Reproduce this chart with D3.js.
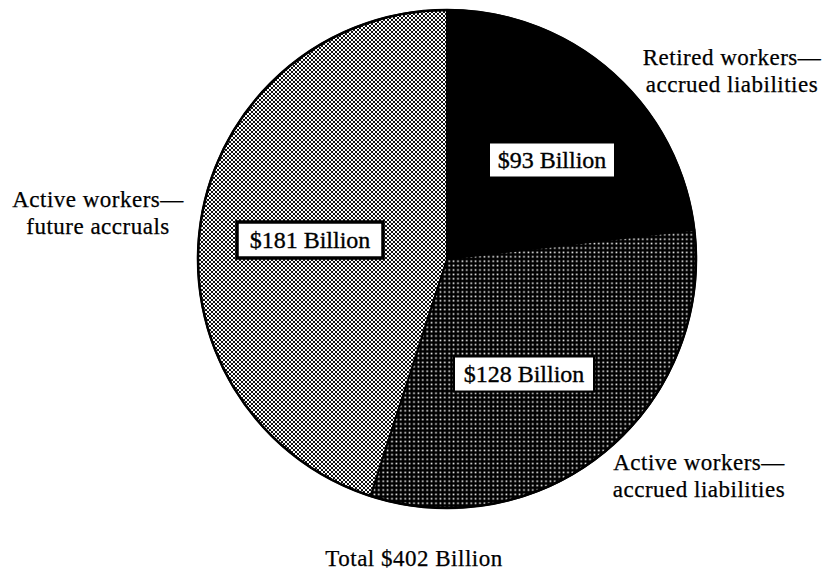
<!DOCTYPE html>
<html><head><meta charset="utf-8">
<script src="https://cdn.jsdelivr.net/npm/d3@7/dist/d3.min.js"></script>
<style>
html,body{margin:0;padding:0;background:#fff;}
svg{display:block;}
text{font-family:"Liberation Serif","Times New Roman",serif;fill:#000;}
</style></head>
<body>
<svg id="chart" width="826" height="572"></svg>
<script>
// ---- data ----
const categories = ["Retired workers\u2014accrued liabilities", "Active workers\u2014accrued liabilities", "Active workers\u2014future accruals"];
const values = [93, 128, 181];
const valueLabels = ["$93 Billion", "$128 Billion", "$181 Billion"];
const outerLabelLines = [
  ["Retired workers\u2014", "accrued liabilities"],
  ["Active workers\u2014", "accrued liabilities"],
  ["Active workers\u2014", "future accruals"]
];
const totalLabel = "Total $402 Billion";

// ---- layout ----
const W = 826, H = 572;
const cx = 447, cy = 259, R = 249;
const fills = ["#000", "url(#dots)", "url(#checker)"];
const boxPos = [[552, 160], [524, 374], [310, 240]];       // value label box centers
const boxSize = [[126, 35], [140, 35], [146, 36]];
const outerPos = [[732, 65], [699, 470], [98, 207]];        // first baseline, centered
const lineGap = 27;

const svg = d3.select("#chart");
const defs = svg.append("defs");
const pd = defs.append("pattern").attr("id", "dots").attr("patternUnits", "userSpaceOnUse")
  .attr("width", 4.4).attr("height", 4.4);
pd.append("rect").attr("width", 4.4).attr("height", 4.4).attr("fill", "#000");
pd.append("rect").attr("x", 1.4).attr("y", 1.4).attr("width", 1.6).attr("height", 1.6).attr("fill", "#fff");
const pc = defs.append("pattern").attr("id", "checker").attr("patternUnits", "userSpaceOnUse")
  .attr("width", 4).attr("height", 4);
pc.append("rect").attr("width", 4).attr("height", 4).attr("fill", "#fff");
pc.append("rect").attr("x", 0).attr("y", 0).attr("width", 2).attr("height", 2).attr("fill", "#111");
pc.append("rect").attr("x", 2).attr("y", 2).attr("width", 2).attr("height", 2).attr("fill", "#111");

const pie = d3.pie().sort(null).value(d => d);
const arc = d3.arc().innerRadius(0).outerRadius(R);
const arcs = pie(values);

const g = svg.append("g").attr("transform", `translate(${cx},${cy})`);
g.selectAll("path.slice").data(arcs).join("path")
  .attr("class", "slice")
  .attr("d", arc)
  .attr("fill", (d, i) => fills[i])
  .attr("stroke", "#000").attr("stroke-width", 2).attr("stroke-linejoin", "round");
g.append("circle").attr("r", R).attr("fill", "none").attr("stroke", "#000").attr("stroke-width", 2.5);

// value label boxes
const lab = svg.append("g");
valueLabels.forEach((t, i) => {
  const [x, y] = boxPos[i], [bw, bh] = boxSize[i];
  lab.append("rect").attr("x", x - bw / 2).attr("y", y - bh / 2).attr("width", bw).attr("height", bh)
    .attr("fill", "#fff").attr("stroke", "#000").attr("stroke-width", i === 2 ? 3.5 : 2);
  lab.append("text").attr("x", x).attr("y", y + 8).attr("text-anchor", "middle")
    .attr("font-size", 24).attr("stroke", "#000").attr("stroke-width", 0.35).text(t);
});

// outer labels
outerLabelLines.forEach((lines, i) => {
  const [x, y] = outerPos[i];
  lines.forEach((l, j) => {
    svg.append("text").attr("x", x).attr("y", y + j * lineGap).attr("text-anchor", "middle")
      .attr("font-size", 23).attr("letter-spacing", 0.5).attr("stroke", "#000").attr("stroke-width", 0.25).text(l);
  });
});

svg.append("text").attr("x", 414).attr("y", 566).attr("text-anchor", "middle")
  .attr("font-size", 23).attr("letter-spacing", 0.5).attr("stroke", "#000").attr("stroke-width", 0.25).text(totalLabel);
</script>
</body></html>
